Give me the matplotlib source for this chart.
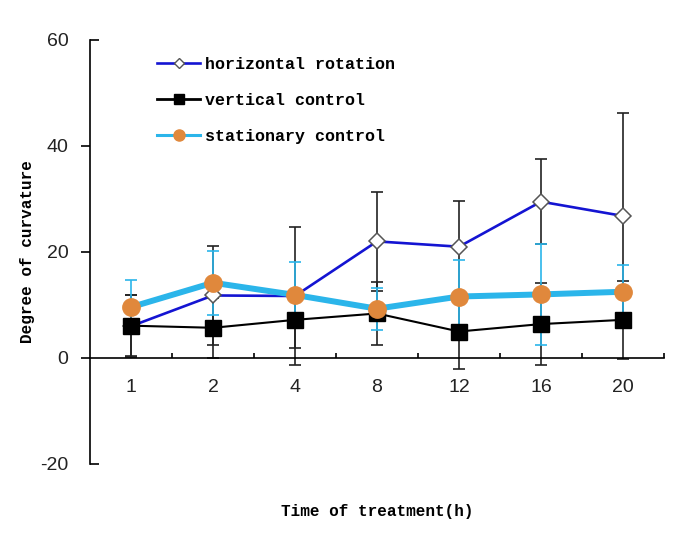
import matplotlib
matplotlib.use("Agg")
import matplotlib.pyplot as plt
from matplotlib.lines import Line2D

# time points (h)
times = ["1", "2", "4", "8", "12", "16", "20"]

horizontal = [6.0, 11.8, 11.7, 22.0, 21.0, 29.5, 26.8]
horizontal_err = [5.8, 9.4, 13.0, 9.3, 8.6, 8.0, 19.5]

vertical = [6.1, 5.7, 7.2, 8.4, 5.0, 6.4, 7.2]
vertical_err = [5.8, 5.7, 5.4, 6.0, 7.1, 7.7, 7.4]

stationary = [9.6, 14.2, 11.9, 9.3, 11.6, 12.0, 12.5]
stationary_err = [5.1, 6.0, 6.2, 4.0, 6.8, 9.6, 5.0]

series_names = ["horizontal rotation", "vertical control", "stationary control"]

yticks_out = [0, 20, 40]
yticks_end = [-20, 60]

mono = "Liberation Mono"
plt.rcParams["axes.unicode_minus"] = False
plt.rcParams["font.family"] = "Liberation Sans"

fig = plt.figure(figsize=(6.85, 5.5), dpi=100)
ax = fig.add_axes([90 / 685, 86 / 550, 574 / 685, 424 / 550])

x = list(range(1, len(times) + 1))

# error bars first
ax.errorbar(x, horizontal, yerr=horizontal_err, fmt="none", ecolor="#222222",
            elinewidth=1.2, capsize=4.3, capthick=1.2, zorder=1)
ax.errorbar(x, vertical, yerr=vertical_err, fmt="none", ecolor="#222222",
            elinewidth=1.2, capsize=4.3, capthick=1.2, zorder=1.1)
ax.errorbar(x, stationary, yerr=stationary_err, fmt="none", ecolor="#2bb5ea",
            elinewidth=1.2, capsize=4.3, capthick=1.2, zorder=1.2)

ax.plot(x, horizontal, color="#1414d2", lw=1.9, marker="D", ms=8.5,
        mfc="white", mec="#555555", mew=1.1, zorder=2)
ax.plot(x, vertical, color="black", lw=1.5, marker="s", ms=11.5,
        mfc="black", mec="black", zorder=3)
ax.plot(x, stationary, color="#2bb5ea", lw=4.3, marker="o", ms=12.5,
        mfc="#e0883c", mec="#e0883c", zorder=4)

ax.set_xlim(0.5, len(times) + 0.5)
ax.set_ylim(-20, 60)

ax.spines["top"].set_visible(False)
ax.spines["right"].set_visible(False)
ax.spines["bottom"].set_position(("data", 0))
ax.spines["left"].set_linewidth(1.2)
ax.spines["bottom"].set_linewidth(1.2)

# inner ticks point outwards, the two end ticks point inwards
ax.set_yticks(yticks_out)
ax.set_yticks(yticks_end, minor=True)
ax.set_yticklabels([str(v) for v in yticks_end], minor=True)
ax.tick_params(axis="y", which="major", direction="out", length=6.5,
               width=1.2, pad=9, labelsize=14, labelcolor="#222222")
ax.tick_params(axis="y", which="minor", direction="in", length=6.5,
               width=1.2, pad=15.5, labelsize=14, labelcolor="#222222")

ax.set_xticks(x)
ax.set_xticklabels(times)
ax.tick_params(axis="x", which="major", length=0, pad=15, labelsize=14,
               labelcolor="#222222")
ax.set_xticks([i + 0.5 for i in x], minor=True)
ax.tick_params(axis="x", which="minor", direction="in", length=3.8, width=1.2)

ax.set_ylabel("Degree of curvature", fontfamily=mono, fontsize=11.5,
              fontweight="bold")
ax.yaxis.set_label_coords(-0.096, 0.5)
ax.set_xlabel("Time of treatment(h)", fontfamily=mono, fontsize=11.5,
              fontweight="bold")
ax.xaxis.set_label_coords(0.5, -0.094)

# legend keys are drawn thinner than the plotted lines
handles = [
    Line2D([], [], color="#1414d2", lw=1.9, marker="D", ms=5.5,
           mfc="white", mec="#555555", mew=1.0),
    Line2D([], [], color="black", lw=2.0, marker="s", ms=7.5,
           mfc="black", mec="black"),
    Line2D([], [], color="#2bb5ea", lw=2.2, marker="o", ms=8,
           mfc="#e0883c", mec="#e0883c"),
]
ax.legend(handles, series_names, loc="upper left",
          bbox_to_anchor=(0.1167, 0.96), frameon=False,
          prop={"family": mono, "size": 12, "weight": "bold"},
          handlelength=2.6, handletextpad=0.3, labelspacing=1.25,
          borderpad=0, borderaxespad=0)

fig.savefig("out.png", dpi=100)
